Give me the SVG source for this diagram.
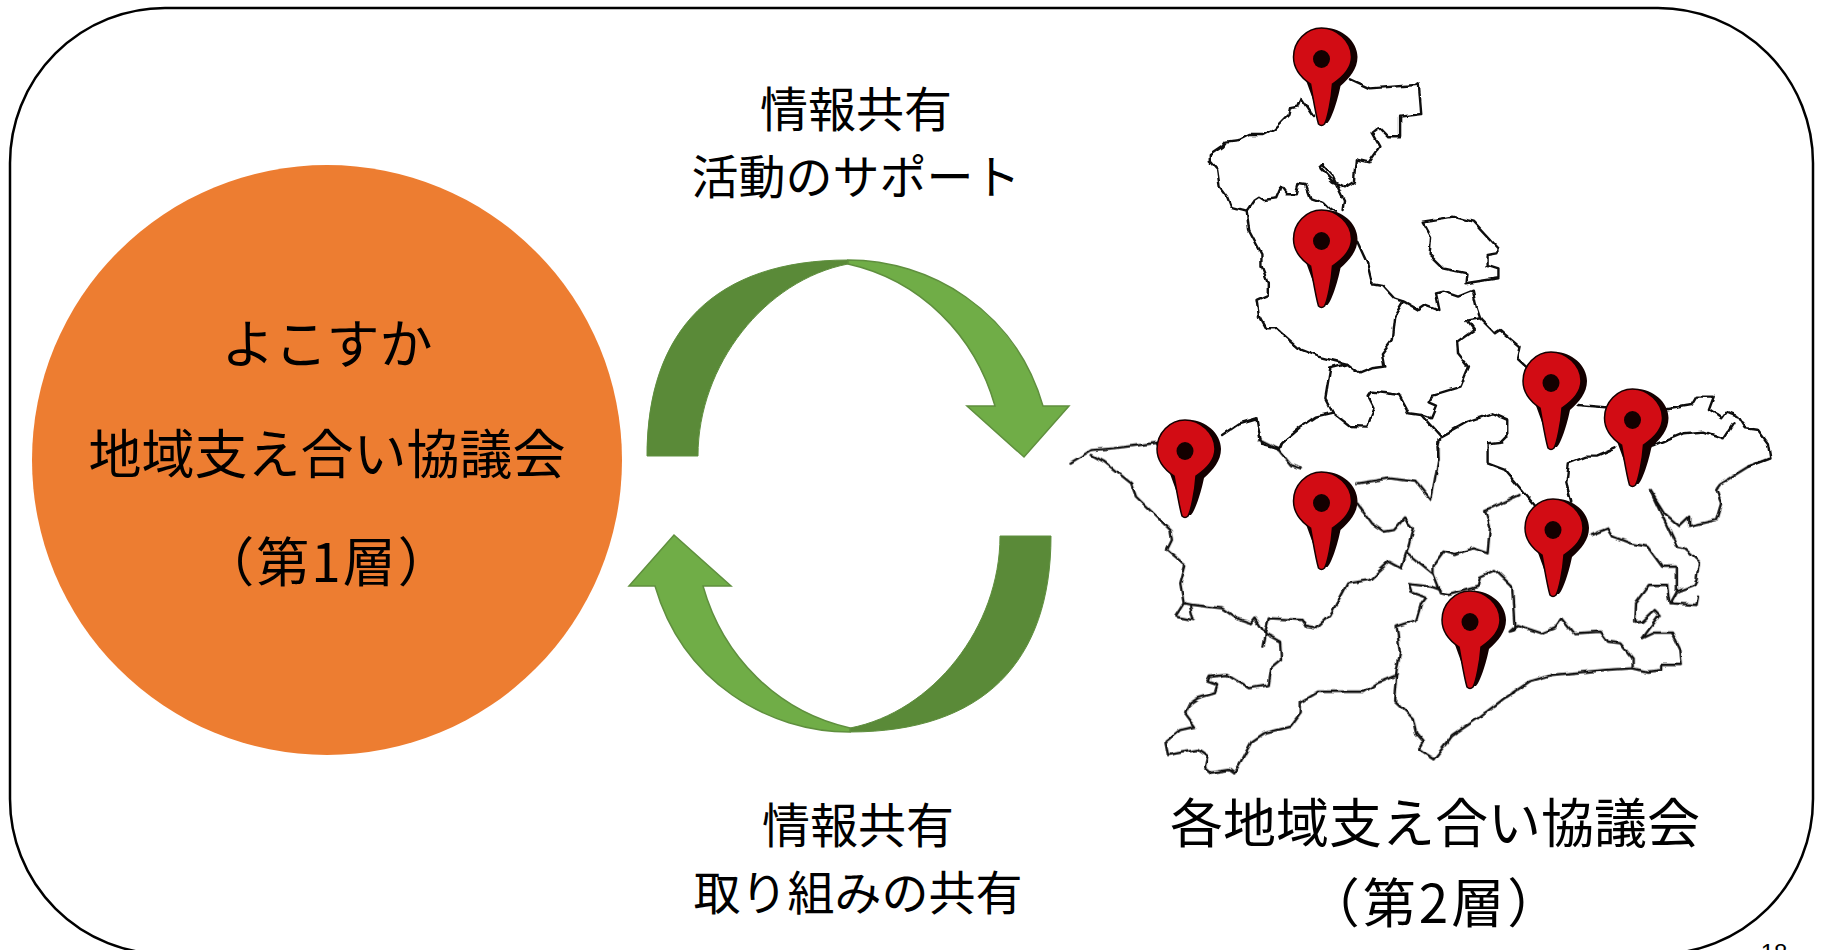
<svg xmlns="http://www.w3.org/2000/svg" xmlns:xlink="http://www.w3.org/1999/xlink" width="1821" height="950" viewBox="0 0 1821 950">
<style>
text{font-family:"Noto Sans CJK JP","Noto Sans CJK SC",sans-serif;fill:#000;text-anchor:middle}
.t{font-size:53px}
.l{font-size:48px}
.s{font-size:47px}
.b{font-size:53px}
.m{fill:none;stroke:#111;stroke-width:2.4;stroke-linejoin:round;stroke-linecap:round;vector-effect:non-scaling-stroke}
.d{fill:#5a8a38;stroke:#5f8f3e;stroke-width:1}
.g{fill:#70ad47;stroke:#5f8f3e;stroke-width:1.5}
</style>
<defs>
<filter id="wob" x="-5%" y="-5%" width="110%" height="110%"><feTurbulence type="fractalNoise" baseFrequency="0.1" numOctaves="1" seed="4"/><feDisplacementMap in="SourceGraphic" scale="6" xChannelSelector="R" yChannelSelector="G"/></filter>
<g id="pin">
<path d="M-24,-2C-24,-18-11,-31 4,-31C20,-31 36,-18 36,-2C36,10 28,19 19,27C16,42 10,60 6,64L0,64Z" fill="#140000"/>
<path d="M-28,-2C-28,-18-15,-31 0,-31C15,-31 30,-18 30,-2C30,10 20,19 11,25C10,40 6,60 3,65C1,67-1,67-3,65C-6,55-9,35-11,25C-20,19-28,10-28,-2Z" fill="#d20c14" stroke="#140000" stroke-width="1.5"/>
<ellipse cx="0" cy="0" rx="8.5" ry="9" fill="#140000"/>
</g>
</defs>
<rect id="frame" x="10" y="8" width="1803" height="946" rx="155" ry="155" fill="#fff" stroke="#000" stroke-width="2.5"/>
<g id="layer1"><circle cx="327" cy="460" r="295" fill="#ed7d31"/>
<text class="t" x="327" y="364">よこすか</text>
<text class="t" x="327" y="474">地域支え合い協議会</text>
<text class="t" x="327" y="582" letter-spacing="2">（第1層）</text></g>
<g id="connectors">
<path class="d" d="M647,456C647,330 715,260 848,260L848,264C765,280 698,365 698,456Z"/>
<path class="g" d="M848,260C930,260 1015,310 1043,406H1069L1024,457L967,406H995C975,335 920,280 848,264Z"/>
<path class="d" d="M1051,536C1051,662 983,732 850,732L850,728C933,712 1000,627 1000,536Z"/>
<path class="g" d="M850,732C768,732 683,682 655,586H629L674,535L731,586H703C723,657 778,712 850,728Z"/>
</g>
<g id="label-top"><text class="l" x="856" y="127">情報共有</text><text class="s" x="856" y="194">活動のサポート</text></g>
<g id="label-bottom"><text class="l" x="858" y="843">情報共有</text><text class="s" x="858" y="910">取り組みの共有</text></g>
<g id="map" filter="url(#wob)">
<g transform="translate(1050,0) scale(0.4917,0.3333)">
<path class="m" d="M610,238L650,265L745,255L750,250L755,342L712,350L712,412L688,412L668,382L654,398L670,440L648,487L622,478L618,545L600,562L575,545L550,505L555,498L575,530L598,600L595,630"/>
<path class="m" d="M535,345L512,295L505,320L488,325L485,345L455,390L435,405L405,405L385,420L358,425L350,440L325,465L325,485L340,510L345,560L360,590L368,620L400,632L415,600L425,590L435,600L460,595L470,560L480,580L500,580L505,552L520,555L530,595L560,610L570,625L580,635"/>
<path class="m" d="M400,632L405,690L430,760L430,800L443,850L443,885L420,900L425,950L438,985L460,985L510,1050L545,1070L605,1092L630,1120L655,1105L680,1100L675,1060L695,1020L700,950L718,905"/>
<path class="m" d="M625,725L645,790L655,850L675,855L700,895L720,905L750,930L765,915L792,930L785,880L800,875L830,890L860,872L868,925L875,955L905,1000L915,990L955,1040L950,1075L968,1100"/>
<path class="m" d="M758,665L820,650L860,665L910,745L910,760L890,765L890,795L912,805L912,835L845,850L847,820L800,805L772,765L775,710Z"/>
<path class="m" d="M875,955L848,962L862,990L828,1025L830,1060L852,1100L835,1160L780,1185L770,1210L785,1220L775,1255L755,1245L730,1240L710,1185L685,1180L655,1175L648,1190L660,1225L645,1280L610,1278L575,1238L540,1250L510,1280L470,1330L465,1348L430,1335L420,1255L385,1270L350,1305"/>
<path class="m" d="M605,1092L570,1105L560,1195L575,1238"/>
<path class="m" d="M755,1245L795,1310L850,1265L900,1240L930,1260L930,1310L920,1325L890,1330L890,1390L925,1410L985,1515"/>
<path class="m" d="M795,1310L788,1340L790,1380"/>
<path class="m" d="M1075,1215L1130,1222M1255,1228L1305,1215L1315,1190L1350,1190L1340,1230L1365,1255L1375,1235L1400,1250L1415,1285L1440,1290L1460,1330L1465,1375L1420,1400"/>
<path class="m" d="M1225,1340L1290,1300L1330,1295L1370,1315L1390,1270M1150,1345L1110,1370L1090,1370L1055,1390L1050,1450L1060,1505"/>
</g>
<g transform="translate(1050,440) scale(0.4917,0.3333)">
<path class="m" d="M1465,55L1420,80L1365,130L1355,150L1365,190L1355,240L1300,258L1300,230L1280,258L1250,220L1220,150L1275,320L1290,325L1320,365L1315,420L1310,435L1275,455L1262,490L1315,495L1318,470"/>
<path class="m" d="M1275,455L1275,380L1245,380L1215,320L1180,310L1145,290L1135,265L1100,285"/>
<path class="m" d="M220,8L130,25L85,30L42,68M85,45L110,65L165,130L175,170L210,220L245,270L248,300L238,330L275,375L265,430L272,490L290,495L320,500L350,505L380,535L410,550L418,535L437,580"/>
<path class="m" d="M272,490L255,530L292,540L285,500"/>
<path class="m" d="M425,0L465,30L490,75L510,85"/>
<path class="m" d="M790,0L790,60L775,180L745,125L690,115L625,130"/>
<path class="m" d="M625,190L655,250L680,275L700,270L720,235L738,265L725,340L715,385L690,365L650,420L605,430L570,525L540,565L520,560L512,540L445,535L437,580L468,605L470,660L450,685L445,735L405,745L360,705L325,710L320,725L340,735L335,760L300,775L285,790L275,820L295,860L265,870L235,905L240,945L300,930L320,950L315,985L325,998L365,990L375,1000L410,905L435,880L490,860L510,820L510,785L545,755L640,755L665,730L705,705"/>
<path class="m" d="M437,580L432,620"/>
<path class="m" d="M725,340L780,405L795,460L810,465L870,440L875,410L905,390L940,440L945,570L935,575L950,555L1000,580L1025,565L1040,535L1065,580L1120,575L1135,605L1160,610L1185,655L1185,685L1215,695L1245,690L1245,675L1285,675L1282,630L1265,578L1230,578L1205,595L1240,525L1230,510L1205,545L1188,548L1190,490L1218,435L1255,435L1260,490"/>
<path class="m" d="M1185,685L1130,690L1020,705L975,725L920,780L870,835L820,885L780,958L750,930L760,905L745,880L738,835L700,780L705,690L712,640L705,560L745,540L755,490L765,470L735,455L730,432L775,440L795,450"/>
<path class="m" d="M780,405L780,375L800,335L825,345L860,325L890,340L895,260L885,210L925,185L955,165"/>
</g>
</g>
<g id="pins">
<use xlink:href="#pin" href="#pin" x="1321.5" y="59"/>
<use xlink:href="#pin" href="#pin" x="1321.5" y="241"/>
<use xlink:href="#pin" href="#pin" x="1551" y="383"/>
<use xlink:href="#pin" href="#pin" x="1632.5" y="420"/>
<use xlink:href="#pin" href="#pin" x="1185" y="451"/>
<use xlink:href="#pin" href="#pin" x="1321.5" y="503"/>
<use xlink:href="#pin" href="#pin" x="1553" y="530"/>
<use xlink:href="#pin" href="#pin" x="1470" y="622"/>
</g>
<g id="layer2"><text class="b" x="1435" y="843">各地域支え合い協議会</text>
<text class="b" x="1435" y="923" letter-spacing="3">（第2層）</text></g>
<text id="page" x="1774" y="961" style="font-family:'Liberation Sans',sans-serif;font-size:24px">18</text>
</svg>
